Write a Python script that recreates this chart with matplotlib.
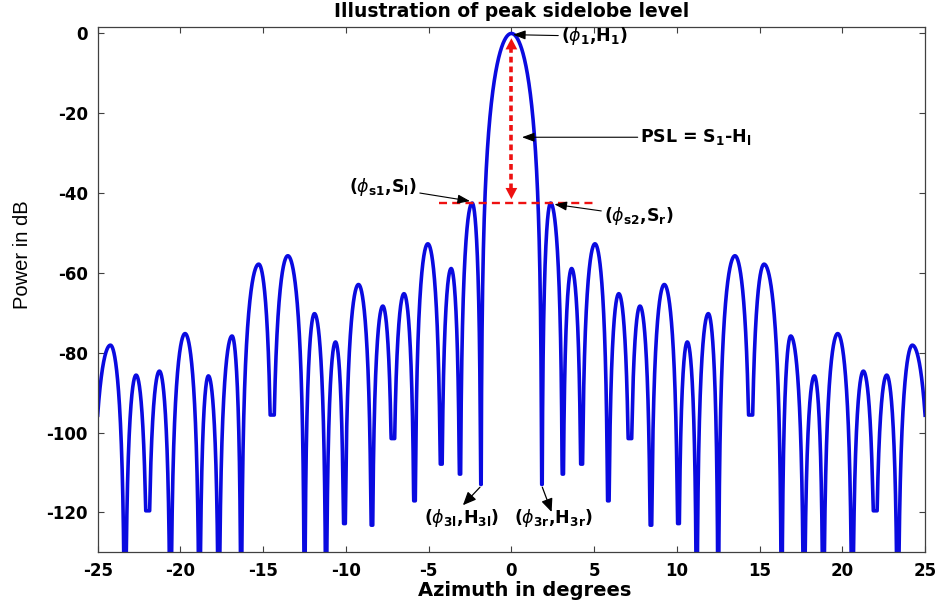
import numpy as np
import matplotlib
matplotlib.use("Agg")
import matplotlib.pyplot as plt

plt.rcParams["axes.unicode_minus"] = False
plt.rcParams["mathtext.fontset"] = "dejavusans"

# Beam pattern, right half (azimuth >= 0); the pattern is mirrored about 0 deg.
peak_az = [0.0, 2.37, 3.64, 5.05, 6.49, 7.77, 9.24, 10.63, 11.90, 13.51,
           15.27, 16.88, 18.31, 19.72, 21.27, 22.68, 24.23]
peak_db = [0.0, -42.5, -58.9, -52.7, -65.2, -68.3, -62.9, -77.3, -70.2, -55.7,
           -57.8, -75.8, -85.8, -75.2, -84.6, -85.6, -78.1]
null_az = [1.84, 3.10, 4.24, 5.85, 7.16, 8.43, 10.09, 11.20, 12.50, 14.46,
           16.33, 17.68, 18.85, 20.60, 21.98, 23.35, 25.40]
null_db = [-113.0, -110.4, -107.9, -117.1, -101.5, -123.2, -122.8, -150.0, -150.0, -95.6,
           -150.0, -150.0, -150.0, -150.0, -119.6, -150.0, -150.0]

x_ticks = [-25, -20, -15, -10, -5, 0, 5, 10, 15, 20, 25]
y_ticks = [-120, -100, -80, -60, -40, -20, 0]

SHARP = 3.0  # lobe roundness


def lobe(a, c, b, level, floor_left, floor_right, n=500):
    x = np.linspace(a, b, n)
    t = np.where(x < c, 0.5 * (x - a) / (c - a), 0.5 + 0.5 * (x - c) / (b - c))
    s = np.clip(np.abs(np.sin(np.pi * t)), 1e-12, None)
    y = level + SHARP * 20 * np.log10(s)
    y = np.maximum(y, np.where(x < c, floor_left, floor_right))
    return x, y


xs, ys = [], []
# main lobe (right half)
x, y = lobe(-null_az[0], peak_az[0], null_az[0], peak_db[0], null_db[0], null_db[0])
m = x >= 0
xs.append(x[m]); ys.append(y[m])
for k in range(1, len(peak_az)):
    x, y = lobe(null_az[k - 1], peak_az[k], null_az[k], peak_db[k],
                null_db[k - 1], null_db[k])
    xs.append(x); ys.append(y)
xr = np.concatenate(xs)
yr = np.concatenate(ys)
az = np.concatenate([-xr[::-1], xr])
pw = np.concatenate([yr[::-1], yr])

fig = plt.figure(figsize=(9.43, 6.04), dpi=100)
ax = fig.add_axes([0.1036, 0.0856, 0.8774, 0.8702])

ax.plot(az, pw, color="#0a0ae0", lw=2.6, solid_joinstyle="round")

ax.set_xlim(-25, 25)
ax.set_ylim(-130, 1.7)
ax.set_xticks(x_ticks)
ax.set_yticks(y_ticks)
ax.tick_params(direction="in", length=4, width=0.8, color="#404040",
               top=True, right=True, labelsize=12, pad=7)
for lab in ax.get_xticklabels() + ax.get_yticklabels():
    lab.set_fontweight("bold")
for sp in ax.spines.values():
    sp.set_color("#404040")
    sp.set_linewidth(0.9)

ax.set_title("Illustration of peak sidelobe level", fontsize=13.5,
             fontweight="bold", pad=7)
ax.set_xlabel("Azimuth in degrees", fontsize=14, fontweight="bold", labelpad=4)
ax.xaxis.set_label_coords(0.516, -0.055)
fig.text(0.024, 0.578, "Power in dB", rotation=90, ha="center", va="center",
         fontsize=14.5, family=["Liberation Sans Narrow", "Liberation Sans"])

# peak sidelobe level reference line
psl = peak_db[1]
ax.plot([-4.35, 5.1], [psl, psl], color="#ee1111", lw=1.7, dashes=(3.4, 2.2))

# dotted double arrow between the main-lobe peak and the sidelobe level
ax.plot([0, 0], [peak_db[0] - 3.5, psl + 3.5], color="#ee1111", lw=2.6,
        dashes=(1.6, 1.1))
head = dict(arrowstyle="-|>,head_length=0.8,head_width=0.42", color="#ee1111",
            lw=0.01, shrinkA=0, shrinkB=0)
ax.annotate("", xy=(0, peak_db[0] - 1.2), xytext=(0, peak_db[0] - 4.8), arrowprops=head)
ax.annotate("", xy=(0, psl + 1.0), xytext=(0, psl + 4.6), arrowprops=head)

arrow = dict(arrowstyle="-|>,head_length=0.6,head_width=0.22", color="black",
             lw=0.8, shrinkA=0, shrinkB=0)
bold = dict(fontsize=12.5, fontweight="bold", color="black")

ax.annotate(r"($\phi_{\mathbf{1}}$,H$_{\mathbf{1}}$)", xy=(0.1, -0.3),
            xytext=(3.0, -0.7), ha="left", va="center", arrowprops=arrow, **bold)
ax.annotate(r"PSL = S$_{\mathbf{1}}$-H$_{\mathbf{l}}$", xy=(0.64, -26.0),
            xytext=(7.8, -26.0), ha="left", va="center", arrowprops=arrow, **bold)
ax.annotate(r"($\phi_{\mathbf{s1}}$,S$_{\mathbf{l}}$)", xy=(-2.5, -42.0),
            xytext=(-5.7, -38.5), ha="right", va="center", arrowprops=arrow, **bold)
ax.annotate(r"($\phi_{\mathbf{s2}}$,S$_{\mathbf{r}}$)", xy=(2.6, -42.8),
            xytext=(5.6, -45.8), ha="left", va="center", arrowprops=arrow, **bold)

big = dict(arrowstyle="-|>,head_length=0.8,head_width=0.35", color="black",
           lw=0.9, shrinkA=0, shrinkB=0)
ax.annotate("", xy=(-2.93, -118.2), xytext=(-1.9, -113.7), arrowprops=big)
ax.annotate("", xy=(2.43, -119.9), xytext=(1.87, -113.7), arrowprops=big)
ax.text(-2.99, -121.5, r"($\phi_{\mathbf{3l}}$,H$_{\mathbf{3l}}$)", ha="center",
        va="center", **bold)
ax.text(2.57, -121.5, r"($\phi_{\mathbf{3r}}$,H$_{\mathbf{3r}}$)", ha="center",
        va="center", **bold)

fig.savefig("out.png", dpi=100, facecolor="white")
